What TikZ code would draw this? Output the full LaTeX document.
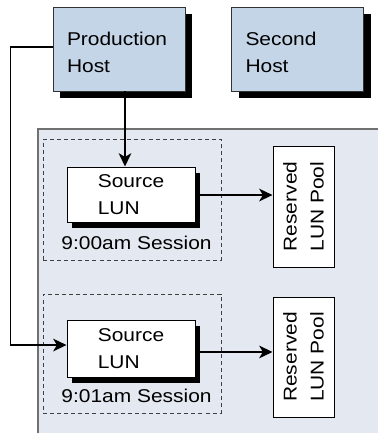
\documentclass[tikz,border=0pt]{standalone}
\usepackage{fontspec}
\setmainfont{Liberation Sans}[FakeStretch=1.13]
\usetikzlibrary{arrows.meta,calc}
\definecolor{hostfill}{RGB}{197,213,232}
\definecolor{panelfill}{RGB}{228,233,241}
\definecolor{panelline}{RGB}{112,112,112}
\begin{document}
\begin{tikzpicture}[x=0.75pt,y=-0.75pt,
  every node/.style={font=\fontsize{13.9}{20.25}\selectfont, inner sep=0pt},
  hardshadow/.style 2 args={preaction={fill=black, draw=none,
    transform canvas={xshift=#1, yshift=#2}}},
  hostbox/.style={draw=black!80, line width=0.6pt, fill=hostfill, align=left,
    text width=78pt, inner xsep=10.5pt, minimum height=63pt,
    text height=14.25pt, text depth=20.25pt,
    hardshadow={5.25pt}{-4.9pt}},
  lunbox/.style={draw=black, line width=0.75pt, fill=white, align=left,
    minimum width=96pt, hardshadow={3.9pt}{-4.3pt}},
  poolbox/.style={draw=black, line width=0.75pt, fill=white, align=left, rotate=90,
    minimum height=45.75pt},
  sessionbox/.style={draw=black!75, line width=0.6pt, dash pattern=on 3pt off 2.3pt,
    minimum width=133.5pt},
  link/.style={line width=1.1pt, -{Stealth[length=10pt,width=9.5pt,inset=2.8pt]}},
]
\path[use as bounding box] (0,0) rectangle (378,433);

% storage system panel
\fill[panelfill] (38,129) rectangle (380,435);
\draw[panelline, line width=1pt] (38,435) -- (38,129) -- (380,129);

% hosts
\node[hostbox] (ph) at (119,49) {Production\\Host};
\node[hostbox] (sh) at (297.5,49) {Second\\Host};

% snapshot sessions
\node[sessionbox, minimum height=90.75pt] (sess1) at (132,199.5) {};
\node[sessionbox, minimum height=89.25pt] (sess2) at (132,353.5) {};

\node[lunbox, minimum height=41.25pt] (src1) at (131,194.5) {Source\\LUN};
\node[lunbox, minimum height=42.75pt] (src2) at (131,348.5) {Source\\LUN};

\node[anchor=base] (lab1) at (136.5,249) {9:00am Session};
\node[anchor=base] (lab2) at (136.5,402) {9:01am Session};

% reserved LUN pools
\node[poolbox, minimum width=90.75pt] (pool1) at (303.5,206.5) {Reserved\\LUN Pool};
\node[poolbox, minimum width=90pt] (pool2) at (303.5,357) {Reserved\\LUN Pool};

% connectors
\draw[link] ([xshift=4.5pt]ph.south) -- ([xshift=4.5pt]ph.south |- src1.north);
\draw[link] ([yshift=1.5pt]ph.west) -- ++(-42,0) |- ([yshift=2.6pt]src2.west);
\draw[link] ([yshift=-0.4pt]src1.east) -- ([yshift=-0.4pt]src1.east -| pool1.north);
\draw[link] ([yshift=-2.6pt]src2.east) -- ([yshift=-2.6pt]src2.east -| pool2.north);
\end{tikzpicture}
\end{document}
